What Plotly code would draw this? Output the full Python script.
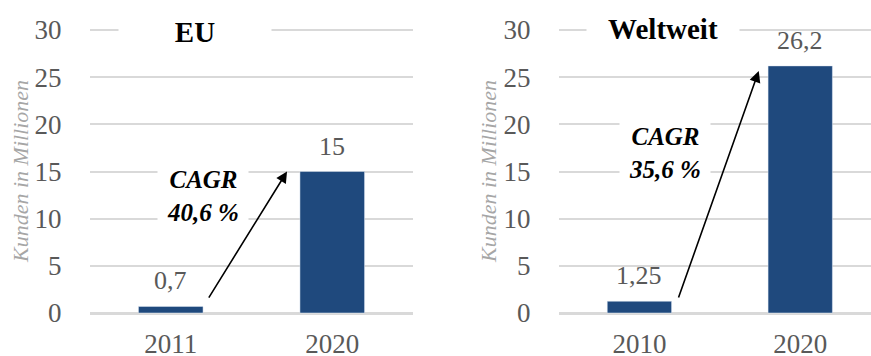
import plotly.graph_objects as go

# Data
eu_years = ["2011", "2020"]
eu_values = [0.7, 15]
eu_title = "EU"
eu_cagr = "40,6 %"

ww_years = ["2010", "2020"]
ww_values = [1.25, 26.2]
ww_title = "Weltweit"
ww_cagr = "35,6 %"

y_ticks = [0, 5, 10, 15, 20, 25, 30]
y_title = "Kunden in Millionen"

BAR = "#1f497d"
GRID = "#d9d9d9"
TXT = "#595959"
FONT = "Liberation Serif, Times New Roman, serif"

W, H = 871, 356


def fmt(v):
    if float(v).is_integer():
        return str(int(v))
    return str(v).replace(".", ",")


fig = go.Figure()
fig.add_trace(go.Bar(x=eu_years, y=eu_values, marker_color=BAR, width=0.4,
                     xaxis="x", yaxis="y", hoverinfo="skip"))
fig.add_trace(go.Bar(x=ww_years, y=ww_values, marker_color=BAR, width=0.4,
                     xaxis="x2", yaxis="y2", hoverinfo="skip"))

ydom = [1 - 314.9 / H, 1 - 20.6 / H]
yax = dict(range=[-0.2, 31], tickvals=y_ticks, showgrid=True, gridcolor=GRID,
           gridwidth=2, zeroline=True, zerolinecolor=GRID, zerolinewidth=2.5,
           showline=False, ticks="outside", ticklen=22, tickcolor="rgba(0,0,0,0)",
           tickfont=dict(family=FONT, size=27, color=TXT), domain=ydom,
           fixedrange=True, automargin=False)
xax = dict(showgrid=False, zeroline=False, showline=False, ticks="outside",
           ticklen=5, tickcolor="rgba(0,0,0,0)",
           tickfont=dict(family=FONT, size=27, color=TXT), type="category",
           fixedrange=True, automargin=False)

fig.update_layout(
    width=W, height=H, margin=dict(l=0, r=0, t=0, b=0, autoexpand=False),
    paper_bgcolor="white", plot_bgcolor="white", showlegend=False,
    xaxis=dict(xax, domain=[90 / W, 413 / W], range=[-0.5, 1.5], anchor="y"),
    yaxis=dict(yax, anchor="x"),
    xaxis2=dict(xax, domain=[559 / W, 1.0], range=[-0.5, 1.44], anchor="y2"),
    yaxis2=dict(yax, anchor="x2"),
)

ann = []
# value labels
for xs, ys, xr, yr in [(eu_years, eu_values, "x", "y"), (ww_years, ww_values, "x2", "y2")]:
    for i, yv in enumerate(ys):
        ann.append(dict(x=i, y=yv, xref=xr, yref=yr, text=fmt(yv), showarrow=False,
                        xanchor="center", yanchor="bottom", yshift=9,
                        font=dict(family=FONT, size=26, color=TXT)))

# titles
ann.append(dict(x=195 / W, y=1 - 32 / H, xref="paper", yref="paper", text="<b>" + eu_title + "</b>",
                showarrow=False, bgcolor="white", width=150, height=30,
                xanchor="center", yanchor="middle",
                font=dict(family=FONT, size=29, color="black")))
ann.append(dict(x=663 / W, y=1 - 29 / H, xref="paper", yref="paper", text="<b>" + ww_title + "</b>",
                showarrow=False, bgcolor="white", width=150, height=30,
                xanchor="center", yanchor="middle",
                font=dict(family=FONT, size=29, color="black")))

# y axis titles
for xp in [20 / W, 488 / W]:
    ann.append(dict(x=xp, y=1 - 172 / H, xref="paper", yref="paper", text="<i>" + y_title + "</i>",
                    showarrow=False, textangle=-90, xanchor="center", yanchor="middle",
                    font=dict(family=FONT, size=22, color="#a6a6a6")))

# CAGR labels
ann.append(dict(x=0.2, y=12.4, xref="x", yref="y", text="<b><i>CAGR<br>" + eu_cagr + "</i></b>",
                showarrow=False, bgcolor="white", width=88, height=62,
                xanchor="center", yanchor="middle",
                font=dict(family=FONT, size=25, color="black")))
ann.append(dict(x=0.158, y=17.0, xref="x2", yref="y2", text="<b><i>CAGR<br>" + ww_cagr + "</i></b>",
                showarrow=False, bgcolor="white", width=88, height=62,
                xanchor="center", yanchor="middle",
                font=dict(family=FONT, size=25, color="black")))

# arrows
ann.append(dict(x=0.72, y=15.0, ax=0.23, ay=1.48, xref="x", yref="y", axref="x", ayref="y",
                text="", showarrow=True, arrowhead=2, arrowsize=1.4, arrowwidth=1.6,
                arrowcolor="black"))
ann.append(dict(x=0.742, y=25.66, ax=0.24, ay=1.48, xref="x2", yref="y2", axref="x2", ayref="y2",
                text="", showarrow=True, arrowhead=2, arrowsize=1.4, arrowwidth=1.6,
                arrowcolor="black"))

fig.update_layout(annotations=ann)
fig.write_html("out.html")
